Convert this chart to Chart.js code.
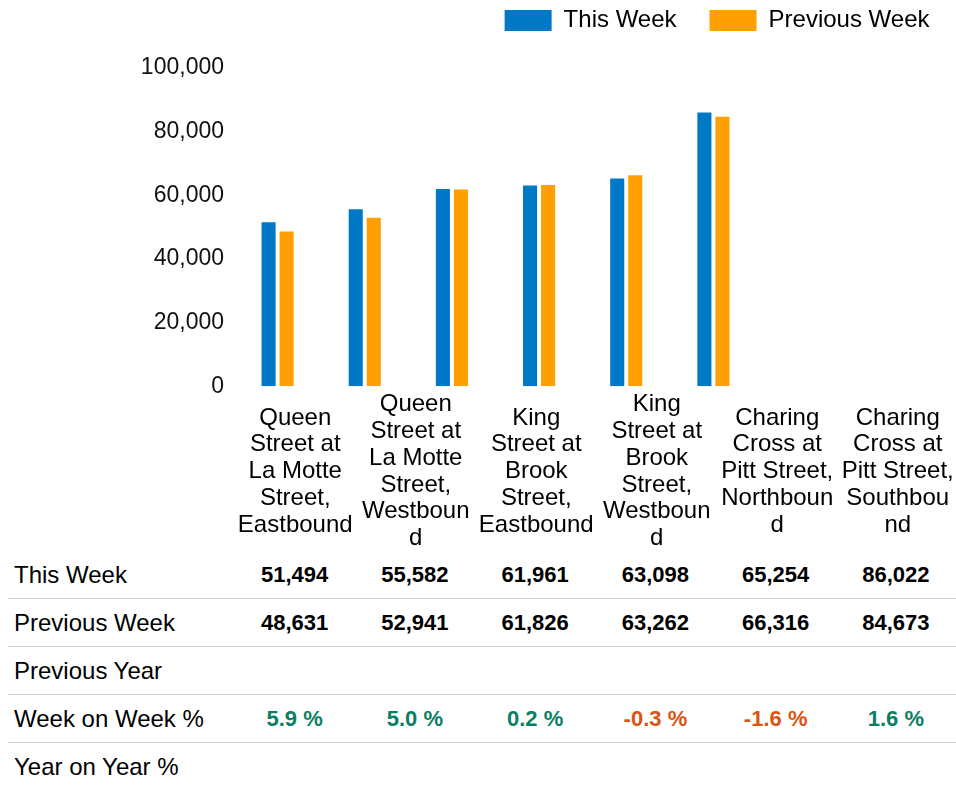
<!DOCTYPE html>
<html>
<head>
<meta charset="utf-8">
<script src="https://cdn.jsdelivr.net/npm/chart.js@4.4.1/dist/chart.umd.min.js"></script>
<style>
  html, body { margin: 0; padding: 0; background: #fff; overflow: hidden; }
  body { width: 956px; height: 789px; position: relative; font-family: "Liberation Sans", Arial, sans-serif; color: #000; }
  #chartBox { position: absolute; left: 0; top: 0; width: 956px; height: 410px; }
  #xLabels { position: absolute; left: 235px; top: 390px; display: flex; }
  #xLabels .cell { width: 120.5px; height: 161px; display: flex; align-items: center; justify-content: center; }
  #xLabels .cell div { width: 116px; text-align: center; font-size: 24px; line-height: 26.8px; overflow-wrap: anywhere; }
  #table { position: absolute; left: 0; top: 551px; width: 956px; }
  .row { display: flex; height: 47px; margin-left: 8px; border-bottom: 1px solid #d0d0d0; align-items: center; }
  .row:last-child { border-bottom: none; }
  .row .label { width: 221px; padding-left: 6px; font-size: 24px; }
  .row .val { width: 120.5px; text-align: center; font-size: 22px; font-weight: bold; }
</style>
</head>
<body>
<div id="chartBox"><canvas id="chart"></canvas></div>
<div id="xLabels"></div>
<div id="table"></div>
<script>
// categories and weekly counts
const categories = [
  "Queen Street at La Motte Street, Eastbound",
  "Queen Street at La Motte Street, Westbound",
  "King Street at Brook Street, Eastbound",
  "King Street at Brook Street, Westbound",
  "Charing Cross at Pitt Street, Northbound",
  "Charing Cross at Pitt Street, Southbound"
];
const thisWeek = [51494, 55582, 61961, 63098, 65254, 86022];
const previousWeek = [48631, 52941, 61826, 63262, 66316, 84673];
const previousYear = [null, null, null, null, null, null];
const weekOnWeek = [5.9, 5.0, 0.2, -0.3, -1.6, 1.6];
const yearOnYear = [null, null, null, null, null, null];
const yTickStep = 20000;
const yMax = 100000;

const blue = "#0078c8";
const orange = "#ffa000";

// blank axis, only used to reserve space around the plot
const spacer = (pos, size) => ({
  position: pos,
  grid: { display: false, drawTicks: false },
  border: { display: false },
  ticks: { display: false },
  afterFit: (s) => {
    if (pos === "top") s.height = size; else s.width = size;
  }
});

new Chart(document.getElementById("chart"), {
  type: "bar",
  data: {
    labels: categories,
    datasets: [
      { label: "This Week", data: thisWeek, backgroundColor: blue, borderWidth: 0, categoryPercentage: 0.414, barPercentage: 0.78 },
      { label: "Previous Week", data: previousWeek, backgroundColor: orange, borderWidth: 0, categoryPercentage: 0.414, barPercentage: 0.78 }
    ]
  },
  options: {
    responsive: true,
    maintainAspectRatio: false,
    animation: false,
    layout: { padding: { top: -24.5, right: -6.5, bottom: 0, left: 0 } },
    plugins: {
      tooltip: { enabled: false },
      legend: {
        position: "top",
        align: "end",
        labels: {
          boxWidth: 47,
          boxHeight: 21,
          padding: 33,
          color: "#000",
          font: { family: "Liberation Sans", size: 24 }
        }
      }
    },
    scales: {
      x: { display: false },
      y: {
        min: 0,
        max: yMax,
        grid: { display: false, drawTicks: false },
        border: { display: false },
        ticks: {
          stepSize: yTickStep,
          autoSkip: false,
          padding: 10,
          color: "#111",
          font: { family: "Liberation Sans", size: 23 },
          callback: (v) => Number(v).toLocaleString("en-US")
        },
        afterFit: (s) => { s.width = 234; }
      },
      x2: spacer("top", 25.5),
      y2: spacer("right", 205.5)
    }
  }
});

// category labels under the chart
const xLabels = document.getElementById("xLabels");
categories.forEach((c) => {
  const cell = document.createElement("div");
  cell.className = "cell";
  const t = document.createElement("div");
  t.textContent = c;
  cell.appendChild(t);
  xLabels.appendChild(cell);
});

// data table
const fmtNum = (v) => (v == null ? "" : v.toLocaleString("en-US"));
const fmtPct = (v) => (v == null ? "" : v.toFixed(1) + " %");
const pctColor = (v) => (v == null ? "#000" : v < 0 ? "#dc5313" : "#0b7f63");

const rows = [
  { name: "This Week", values: thisWeek, fmt: fmtNum },
  { name: "Previous Week", values: previousWeek, fmt: fmtNum },
  { name: "Previous Year", values: previousYear, fmt: fmtNum },
  { name: "Week on Week %", values: weekOnWeek, fmt: fmtPct, color: pctColor },
  { name: "Year on Year %", values: yearOnYear, fmt: fmtPct, color: pctColor }
];

const table = document.getElementById("table");
rows.forEach((r) => {
  const row = document.createElement("div");
  row.className = "row";
  const label = document.createElement("div");
  label.className = "label";
  label.textContent = r.name;
  row.appendChild(label);
  r.values.forEach((v) => {
    const cell = document.createElement("div");
    cell.className = "val";
    cell.textContent = r.fmt(v);
    if (r.color) cell.style.color = r.color(v);
    row.appendChild(cell);
  });
  table.appendChild(row);
});
</script>
</body>
</html>
